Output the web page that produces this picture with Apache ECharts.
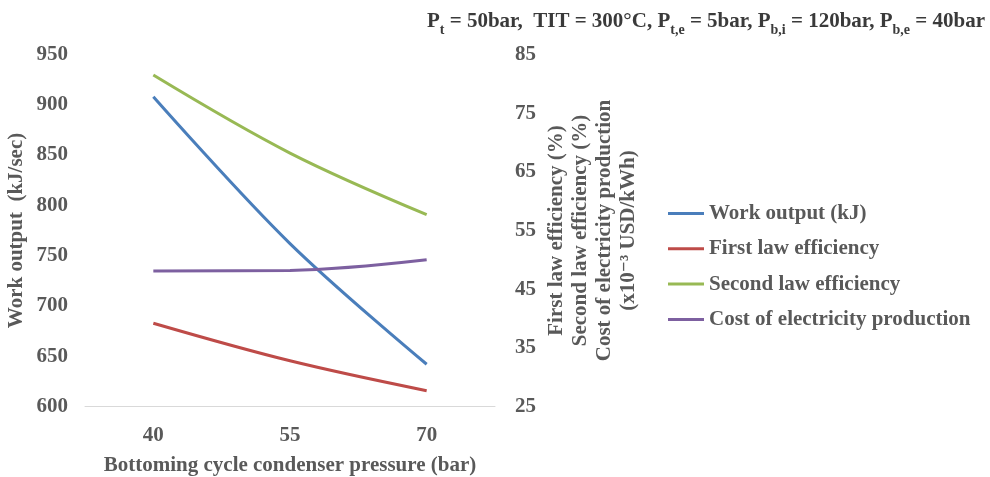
<!DOCTYPE html>
<html>
<head>
<meta charset="utf-8">
<script src="https://cdn.jsdelivr.net/npm/echarts@6/dist/echarts.min.js"></script>
<style>
  html, body { margin: 0; padding: 0; background: #fff; }
  #chart { width: 990px; height: 477px; }
</style>
</head>
<body>
<div id="chart"></div>
<script>
// Bottoming cycle condenser pressure (bar)
const pressures = ['40', '55', '70'];
// Work output (kJ/sec), left axis
const workOutput = [908, 762, 642];
// Efficiencies (%) and cost (x10^-3 USD/kWh), right axis
const firstLawEff = [39.2, 32.8, 27.7];
const secondLawEff = [81.5, 68.2, 57.7];
const costElectricity = [48.1, 48.2, 50.0];

const leftTicks = { min: 600, max: 950, interval: 50 };
const rightTicks = { min: 25, max: 85, interval: 10 };

const FONT = '"Liberation Serif", "DejaVu Serif", serif';
const TXT = '#595959';
const FS = 21;

const chart = echarts.init(document.getElementById('chart'), null, { renderer: 'canvas' });

// subscripts: smaller glyphs pushed down with top padding inside the same line box
const mainStyle = { fontSize: 21, fontFamily: FONT, fontWeight: 'bold', color: '#3a3a3a', lineHeight: 23, verticalAlign: 'top' };
const subStyle = { fontSize: 14, fontFamily: FONT, fontWeight: 'bold', color: '#3a3a3a', lineHeight: 14, padding: [12, 0, 0, 0], verticalAlign: 'top' };

chart.setOption({
  animation: false,
  backgroundColor: '#fff',
  title: {
    text: '{m|P}{s|t}{m| = 50bar,  TIT = 300°C, P}{s|t,e}{m| = 5bar, P}{s|b,i}{m| = 120bar, P}{s|b,e}{m| = 40bar}',
    right: 5,
    top: 11,
    padding: 0,
    textStyle: { rich: { m: mainStyle, s: subStyle } }
  },
  legend: {
    orient: 'vertical',
    left: 668,
    top: 203,
    itemWidth: 36,
    itemHeight: 3,
    itemGap: 14.3,
    padding: 0,
    icon: 'rect',
    textStyle: { fontFamily: FONT, fontWeight: 'bold', fontSize: FS, color: TXT },
    data: ['Work output (kJ)', 'First law efficiency', 'Second law efficiency', 'Cost of electricity production']
  },
  grid: { left: 85, right: 495, top: 54.5, bottom: 70.5, containLabel: false, outerBoundsMode: 'none' },
  xAxis: {
    type: 'category',
    data: pressures,
    boundaryGap: true,
    name: 'Bottoming cycle condenser pressure (bar)',
    nameLocation: 'middle',
    nameGap: 49,
    nameTextStyle: { fontFamily: FONT, fontWeight: 'bold', fontSize: FS, color: TXT },
    axisLine: { show: true, lineStyle: { color: '#d9d9d9', width: 1 } },
    axisTick: { show: false },
    axisLabel: { fontFamily: FONT, fontWeight: 'bold', fontSize: FS, color: TXT, margin: 19 },
    splitLine: { show: false }
  },
  yAxis: [
    {
      type: 'value',
      position: 'left',
      min: leftTicks.min, max: leftTicks.max, interval: leftTicks.interval,
      name: 'Work output  (kJ/sec)',
      nameLocation: 'middle',
      nameGap: 58,
      nameRotate: 90,
      nameTextStyle: { fontFamily: FONT, fontWeight: 'bold', fontSize: FS, color: TXT },
      axisLine: { show: false },
      axisTick: { show: false },
      axisLabel: { fontFamily: FONT, fontWeight: 'bold', fontSize: FS, color: TXT, margin: 17 },
      splitLine: { show: false }
    },
    {
      type: 'value',
      position: 'right',
      min: rightTicks.min, max: rightTicks.max, interval: rightTicks.interval,
      name: 'First law efficiency (%)\nSecond law efficiency (%)\nCost of electricity production\n(x10⁻³ USD/kWh)',
      nameLocation: 'middle',
      nameGap: 50,
      nameRotate: 90,
      nameTextStyle: { fontFamily: FONT, fontWeight: 'bold', fontSize: FS, color: TXT, lineHeight: 24, align: 'center' },
      axisLine: { show: false },
      axisTick: { show: false },
      axisLabel: { fontFamily: FONT, fontWeight: 'bold', fontSize: FS, color: TXT, margin: 20 },
      splitLine: { show: false }
    }
  ],
  series: [
    {
      name: 'Work output (kJ)', type: 'line', yAxisIndex: 0, data: workOutput,
      smooth: 0.35, symbol: 'none', lineStyle: { width: 3, color: '#4a7ebb' }, itemStyle: { color: '#4a7ebb' }
    },
    {
      name: 'First law efficiency', type: 'line', yAxisIndex: 1, data: firstLawEff,
      smooth: 0.35, symbol: 'none', lineStyle: { width: 3, color: '#be4b48' }, itemStyle: { color: '#be4b48' }
    },
    {
      name: 'Second law efficiency', type: 'line', yAxisIndex: 1, data: secondLawEff,
      smooth: 0.35, symbol: 'none', lineStyle: { width: 3, color: '#98b954' }, itemStyle: { color: '#98b954' }
    },
    {
      name: 'Cost of electricity production', type: 'line', yAxisIndex: 1, data: costElectricity,
      smooth: 0.35, symbol: 'none', lineStyle: { width: 3, color: '#7d60a0' }, itemStyle: { color: '#7d60a0' }
    }
  ]
});
</script>
</body>
</html>
